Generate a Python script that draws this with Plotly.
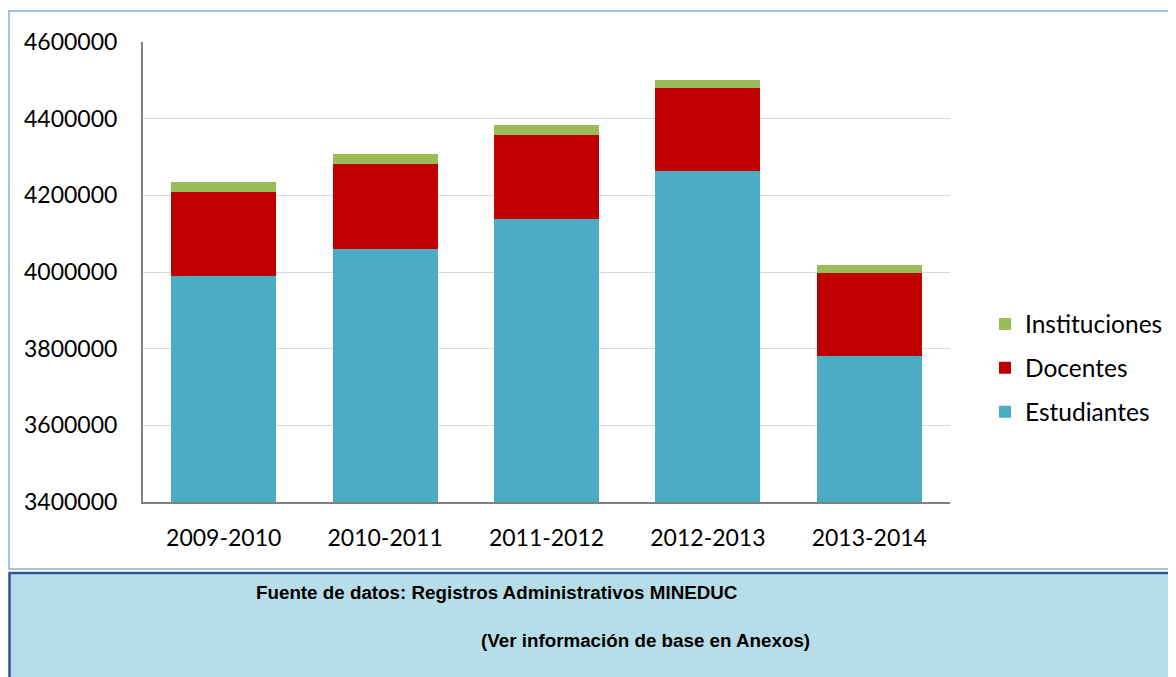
import plotly.graph_objects as go

periodos = ["2009-2010", "2010-2011", "2011-2012", "2012-2013", "2013-2014"]
estudiantes = [3990000, 4060000, 4137000, 4263000, 3782000]
docentes = [220000, 223000, 221000, 216000, 215000]
instituciones = [24000, 26000, 26000, 21000, 21000]
y_ticks = [3400000, 3600000, 3800000, 4000000, 4200000, 4400000, 4600000]

OFF = 8  # page body margin
W, H = 1176 - OFF, 677 - OFF
L, R, T, B = 143 - OFF, 950 - OFF, 42 - OFF, 502 - OFF

def px(x):
    return (x - OFF - L) / (R - L)

def py(y):
    return (B - (y - OFF)) / (B - T)

fig = go.Figure()
series = [("Estudiantes", estudiantes, "#4bacc6", 3),
          ("Docentes", docentes, "#c00000", 2),
          ("Instituciones", instituciones, "#9bbb59", 1)]
for name, vals, col, rank in series:
    fig.add_trace(go.Bar(x=periodos, y=vals, name=name, marker_color=col,
                         marker_line_width=0, legendgroup=name, legendrank=rank))

fig.update_layout(
    width=W, height=H, barmode="stack", bargap=0.35,
    paper_bgcolor="white", plot_bgcolor="white",
    margin=dict(l=L, r=W - R, t=T, b=H - B, pad=0, autoexpand=False),
    font=dict(family="Lato, Noto Sans, sans-serif", size=23, color="#000000"),
    legend=dict(x=px(985), y=py(368), xanchor="left", yanchor="middle",
                traceorder="grouped", tracegroupgap=9,
                font=dict(size=24.5), itemwidth=30, bgcolor="rgba(0,0,0,0)"),
    showlegend=True,
)
fig.update_yaxes(range=[3400000, 4600000], tickvals=y_ticks,
                 ticktext=[str(v) for v in y_ticks],
                 showgrid=True, gridcolor="#d9d9d9", gridwidth=1,
                 showline=True, linecolor="#808080", linewidth=2,
                 ticks="", ticklabelstandoff=19, zeroline=False)
fig.update_xaxes(showline=True, linecolor="#808080", linewidth=2,
                 ticks="", ticklabelstandoff=14, showgrid=False)

# chart border
fig.add_shape(type="rect", xref="paper", yref="paper",
              x0=px(9), x1=px(1190), y0=py(569), y1=py(11),
              line=dict(color="#8eaadb", width=1.5), fillcolor="rgba(0,0,0,0)", layer="below")
# source box
fig.add_shape(type="rect", xref="paper", yref="paper",
              x0=px(9.5), x1=px(1190), y0=py(690), y1=py(573),
              line=dict(color="#2f5597", width=2.5), fillcolor="#b7dde8", layer="below")

fig.add_annotation(xref="paper", yref="paper", x=px(497), y=py(592),
                   text="<b>Fuente de datos: Registros Administrativos MINEDUC</b>",
                   showarrow=False, xanchor="center", yanchor="middle",
                   font=dict(family="Liberation Sans, Arial, sans-serif", size=18.8, color="#000000"))
fig.add_annotation(xref="paper", yref="paper", x=px(645), y=py(640),
                   text="<b>(Ver información de base en Anexos)</b>",
                   showarrow=False, xanchor="center", yanchor="middle",
                   font=dict(family="Liberation Sans, Arial, sans-serif", size=18.8, color="#000000"))

fig.write_html("out.html")
